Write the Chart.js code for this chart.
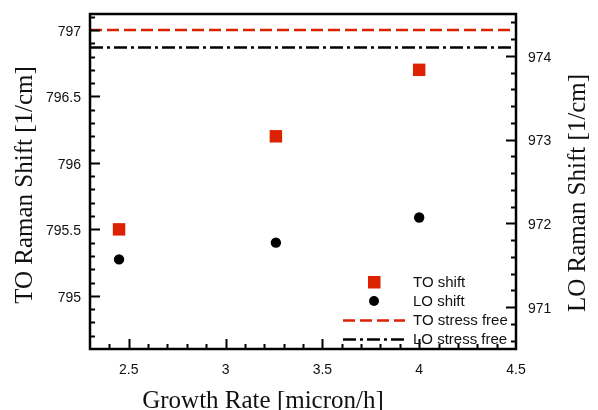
<!DOCTYPE html>
<html>
<head>
<meta charset="utf-8">
<style>
  html, body { margin: 0; padding: 0; background: #ffffff; }
  #wrap { width: 598px; height: 410px; }
</style>
<script src="https://cdn.jsdelivr.net/npm/chart.js@4.4.1/dist/chart.umd.min.js"></script>
</head>
<body>
<div id="wrap"><canvas id="chart" width="598" height="410"></canvas></div>
<script>
// Raman shift of TO / LO phonon lines versus growth rate
const growthRate = [2.45, 3.26, 4.0];
const toShift = [795.5, 796.2, 796.7];
const loShift = [971.57, 971.77, 972.07];

// stress-free reference levels, drawn across the full x range
const refX = [2.3, 4.5];
const toStressFree = [797.0, 797.0];
const loStressFree = [974.1, 974.1];

// axis ticks
const xTicks = [2.5, 3, 3.5, 4, 4.5];
const toTicks = [795, 795.5, 796, 796.5, 797];
const loTicks = [971, 972, 973, 974];

const RED = '#dc2200';
const BLACK = '#000000';
const SANS = '"Liberation Sans", Arial, Helvetica, sans-serif';
const SERIF = '"Liberation Serif", "Times New Roman", serif';

const pts = (xs, ys) => xs.map((x, i) => ({ x: x, y: ys[i] }));

// keep the plot box fixed: no extra room for overhanging tick labels
const noPad = s => { s.paddingTop = 0; s.paddingBottom = 0; s.paddingLeft = 0; s.paddingRight = 0; };

// inward ticks, frame, axis titles and the inset legend
const framePlugin = {
  id: 'frame',
  afterDraw(chart) {
    const ctx = chart.ctx;
    const a = chart.chartArea;
    const sx = chart.scales.x, sl = chart.scales.yTO, sr = chart.scales.yLO;
    ctx.save();
    ctx.strokeStyle = BLACK;
    ctx.lineCap = 'butt';

    const tickSet = (scale, step, majors) => {
      const out = [];
      const start = Math.ceil(scale.min / step - 1e-6);
      for (let k = start; k * step <= scale.max + 1e-9; k++) {
        const v = +(k * step).toFixed(4);
        const major = majors.some(m => Math.abs(m - v) < 1e-6);
        out.push({ v: v, major: major });
      }
      return out;
    };

    // bottom ticks
    ctx.lineWidth = 2;
    tickSet(sx, 0.1, xTicks).forEach(t => {
      const p = Math.round(sx.getPixelForValue(t.v)) + 0.5;
      if (p <= a.left + 1 || p >= a.right - 1) return;
      const len = t.major ? 10 : 5;
      ctx.beginPath(); ctx.moveTo(p, a.bottom); ctx.lineTo(p, a.bottom - len); ctx.stroke();
    });
    // left ticks
    tickSet(sl, 0.1, toTicks).forEach(t => {
      const p = Math.round(sl.getPixelForValue(t.v)) + 0.5;
      if (p <= a.top + 1 || p >= a.bottom - 1) return;
      const len = t.major ? 10 : 5;
      ctx.beginPath(); ctx.moveTo(a.left, p); ctx.lineTo(a.left + len, p); ctx.stroke();
    });
    // right ticks
    tickSet(sr, 0.2, loTicks).forEach(t => {
      const p = Math.round(sr.getPixelForValue(t.v)) + 0.5;
      if (p <= a.top + 1 || p >= a.bottom - 1) return;
      const len = t.major ? 10 : 5;
      ctx.beginPath(); ctx.moveTo(a.right, p); ctx.lineTo(a.right - len, p); ctx.stroke();
    });

    // frame
    ctx.lineWidth = 2.5;
    ctx.strokeRect(a.left, a.top, a.right - a.left, a.bottom - a.top);

    // axis titles
    ctx.fillStyle = '#111';
    ctx.font = '25px ' + SERIF;
    ctx.textAlign = 'center';
    ctx.textBaseline = 'alphabetic';
    ctx.fillText('Growth Rate [micron/h]', 263, 408);

    ctx.save();
    ctx.translate(32, 185);
    ctx.rotate(-Math.PI / 2);
    ctx.fillText('TO Raman Shift [1/cm]', 0, 0);
    ctx.restore();

    ctx.save();
    ctx.translate(585, 193);
    ctx.rotate(-Math.PI / 2);
    ctx.fillText('LO Raman Shift [1/cm]', 0, 0);
    ctx.restore();

    // legend
    const items = chart.data.datasets;
    const rowsY = [282, 301, 320, 339];
    const symX = 374, lineL = 343, lineR = 405, textX = 413;
    ctx.font = '15px ' + SANS;
    ctx.textAlign = 'left';
    ctx.textBaseline = 'middle';
    items.forEach((ds, i) => {
      const y = rowsY[i];
      ctx.save();
      if (ds.showLine) {
        ctx.strokeStyle = ds.borderColor;
        ctx.lineWidth = ds.borderWidth;
        ctx.setLineDash(ds.borderDash || []);
        ctx.beginPath(); ctx.moveTo(lineL, y + 0.5); ctx.lineTo(lineR, y + 0.5); ctx.stroke();
      } else {
        ctx.fillStyle = ds.backgroundColor;
        if (ds.pointStyle === 'rect') {
          ctx.fillRect(symX - 6, y - 6, 12.5, 12.5);
        } else {
          ctx.beginPath(); ctx.arc(symX, y, 5, 0, Math.PI * 2); ctx.fill();
        }
      }
      ctx.restore();
      ctx.fillStyle = '#111';
      ctx.fillText(ds.label, textX, y + 1);
    });
    ctx.restore();
  }
};

new Chart(document.getElementById('chart'), {
  type: 'scatter',
  data: {
    datasets: [
      {
        label: 'TO shift',
        data: pts(growthRate, toShift),
        yAxisID: 'yTO',
        pointStyle: 'rect',
        pointRadius: 8.8,
        backgroundColor: RED,
        borderColor: RED,
        borderWidth: 0,
        showLine: false
      },
      {
        label: 'LO shift',
        data: pts(growthRate, loShift),
        yAxisID: 'yLO',
        pointStyle: 'circle',
        pointRadius: 5.2,
        backgroundColor: BLACK,
        borderColor: BLACK,
        borderWidth: 0,
        showLine: false
      },
      {
        label: 'TO stress free',
        data: pts(refX, toStressFree),
        yAxisID: 'yTO',
        showLine: true,
        pointRadius: 0,
        borderColor: RED,
        backgroundColor: RED,
        borderWidth: 2.6,
        borderDash: [12, 5]
      },
      {
        label: 'LO stress free',
        data: pts(refX, loStressFree),
        yAxisID: 'yLO',
        showLine: true,
        pointRadius: 0,
        borderColor: BLACK,
        backgroundColor: BLACK,
        borderWidth: 2.6,
        borderDash: [13, 4, 3, 4]
      }
    ]
  },
  options: {
    responsive: false,
    animation: false,
    devicePixelRatio: 1,
    layout: { padding: { top: 14, left: 0, right: 0, bottom: 0 } },
    plugins: { legend: { display: false }, tooltip: { enabled: false } },
    scales: {
      x: {
        type: 'linear',
        min: 2.3,
        max: 4.5,
        grid: { display: false, drawTicks: false },
        border: { display: false },
        afterBuildTicks: s => { s.ticks = xTicks.map(v => ({ value: v })); },
        afterFit: s => { s.height = 61; noPad(s); },
        ticks: {
          padding: 13,
          font: { family: SANS, size: 14 },
          color: '#111',
          maxRotation: 0,
          callback: v => String(v)
        }
      },
      yTO: {
        type: 'linear',
        position: 'left',
        min: 794.6,
        max: 797.12,
        grid: { display: false, drawTicks: false },
        border: { display: false },
        afterBuildTicks: s => { s.ticks = toTicks.map(v => ({ value: v })); },
        afterFit: s => { s.width = 90; noPad(s); },
        ticks: {
          padding: 9,
          labelOffset: 2,
          font: { family: SANS, size: 14 },
          color: '#111',
          callback: v => String(v)
        }
      },
      yLO: {
        type: 'linear',
        position: 'right',
        min: 970.5,
        max: 974.5,
        grid: { display: false, drawTicks: false },
        border: { display: false },
        afterBuildTicks: s => { s.ticks = loTicks.map(v => ({ value: v })); },
        afterFit: s => { s.width = 82; noPad(s); },
        ticks: {
          padding: 12,
          labelOffset: 2,
          font: { family: SANS, size: 14 },
          color: '#111',
          callback: v => String(v)
        }
      }
    }
  },
  plugins: [framePlugin]
});
</script>
</body>
</html>
